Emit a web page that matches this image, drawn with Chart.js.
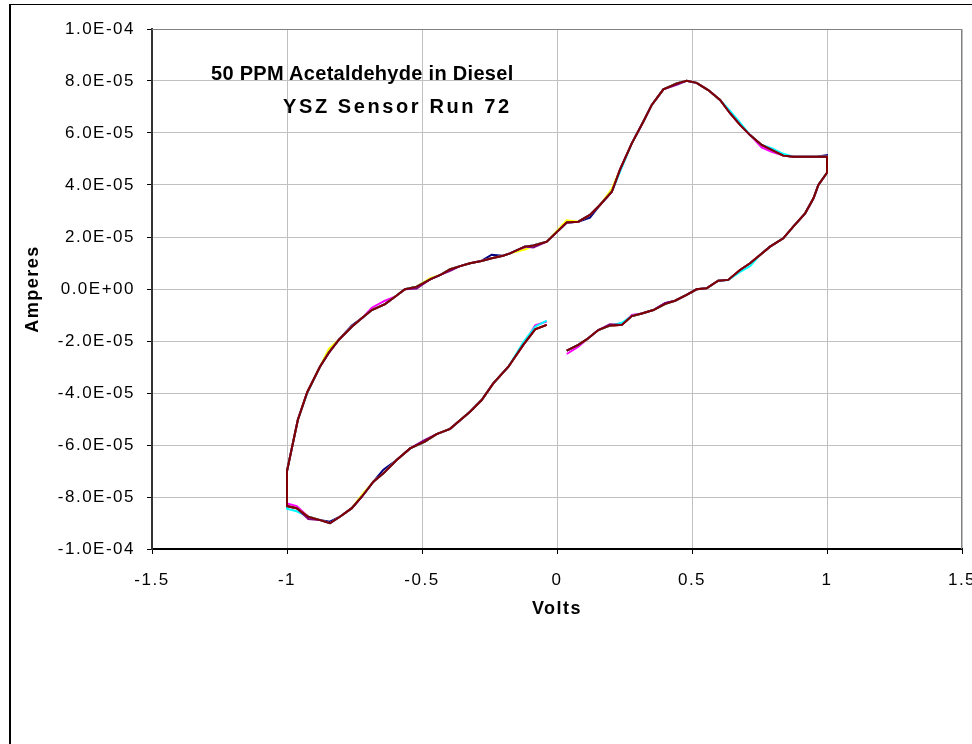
<!DOCTYPE html>
<html>
<head>
<meta charset="utf-8">
<script src="https://cdn.jsdelivr.net/npm/chart.js@4"></script>
<style>
  html, body { margin: 0; padding: 0; background: #fff; overflow: hidden; }
  #frame { position: absolute; left: 9px; top: 4px; width: 1100px; height: 900px;
           border-left: 2px solid #000; border-top: 1px solid #000; }
  #chart { position: absolute; left: 0; top: 0; }
  .title { position: absolute; font: bold 20px "Liberation Sans", Arial, sans-serif;
           line-height: 20px; white-space: nowrap; color: #000; }
  #t1 { left: 211px; top: 63px; letter-spacing: 0.3px; }
  #t2 { left: 283px; top: 96px; letter-spacing: 2.6px; }
</style>
</head>
<body>
<div id="frame"></div>
<canvas id="chart" width="972" height="744"></canvas>
<div class="title" id="t1">50 PPM Acetaldehyde in Diesel</div>
<div class="title" id="t2">YSZ Sensor Run 72</div>
<script>
// sweep voltage (V), same for every cycle
const volts = [
  -0.038, -0.081, -0.125, -0.180, -0.236, -0.279, -0.322, -0.359, -0.396, -0.446,
  -0.489, -0.544, -0.594, -0.643, -0.680, -0.723, -0.760, -0.804, -0.841, -0.880,
  -0.921, -0.964, -1.000, -1.000, -0.960, -0.925, -0.878, -0.845, -0.807, -0.760,
  -0.720, -0.686, -0.637, -0.600, -0.563, -0.520, -0.470, -0.430, -0.396, -0.359,
  -0.322, -0.280, -0.242, -0.200, -0.174, -0.119, -0.088, -0.038, 0.036, 0.079,
  0.122, 0.159, 0.203, 0.233, 0.277, 0.320, 0.351, 0.394, 0.443, 0.480,
  0.517, 0.560, 0.604, 0.641, 0.678, 0.715, 0.758, 0.795, 0.838, 0.875,
  0.920, 0.960, 1.000, 1.000, 0.968, 0.950, 0.919, 0.875, 0.838, 0.789,
  0.752, 0.715, 0.678, 0.634, 0.597, 0.554, 0.517, 0.480, 0.437, 0.400,
  0.357, 0.314, 0.277, 0.240, 0.196, 0.153, 0.110, 0.079, 0.036
];

// current in units of 1E-05 A, one array per cycle
const cycle1 = [
  -1.38, -1.55, -2.15, -2.99, -3.63, -4.27, -4.72, -5.05, -5.38, -5.58,
  -5.87, -6.13, -6.58, -6.95, -7.41, -7.99, -8.43, -8.76, -8.95, -8.88,
  -8.76, -8.43, -8.35, -7.00, -5.04, -3.97, -2.99, -2.45, -1.94, -1.40,
  -1.10, -0.81, -0.58, -0.30, -0.01, 0.09, 0.37, 0.55, 0.76, 0.88,
  0.99, 1.08, 1.32, 1.28, 1.37, 1.63, 1.67, 1.82, 2.56, 2.59,
  2.74, 3.23, 3.74, 4.58, 5.60, 6.44, 7.08, 7.68, 7.91, 8.01,
  7.93, 7.65, 7.27, 6.76, 6.31, 5.92, 5.54, 5.35, 5.13, 5.09,
  5.09, 5.09, 5.15, 4.47, 4.00, 3.49, 2.91, 2.40, 1.95, 1.63,
  1.31, 0.99, 0.73, 0.35, 0.32, 0.03, -0.01, -0.23, -0.45, -0.55,
  -0.81, -0.94, -1.04, -1.38, -1.41, -1.58, -1.94, -2.15, -2.37
];
const cycle2 = [
  -1.25, -1.40, -2.15, -2.99, -3.63, -4.27, -4.72, -5.05, -5.38, -5.58,
  -5.87, -6.13, -6.58, -7.09, -7.41, -7.99, -8.43, -8.76, -9.01, -8.88,
  -8.76, -8.35, -8.25, -7.00, -5.04, -3.97, -2.99, -2.45, -1.94, -1.45,
  -1.10, -0.72, -0.45, -0.30, -0.01, 0.09, 0.37, 0.55, 0.76, 0.88,
  0.99, 1.08, 1.18, 1.28, 1.37, 1.58, 1.67, 1.82, 2.56, 2.59,
  2.85, 3.23, 3.74, 4.58, 5.60, 6.44, 7.08, 7.68, 7.91, 8.01,
  7.93, 7.65, 7.27, 6.76, 6.31, 5.92, 5.45, 5.28, 5.13, 5.09,
  5.09, 5.09, 5.09, 4.47, 4.00, 3.49, 2.91, 2.40, 1.95, 1.63,
  1.31, 0.99, 0.73, 0.35, 0.32, 0.03, -0.01, -0.23, -0.45, -0.58,
  -0.81, -0.94, -1.00, -1.38, -1.41, -1.58, -1.94, -2.22, -2.50
];
const cycle3 = [
  -1.38, -1.55, -2.15, -2.99, -3.63, -4.27, -4.72, -5.05, -5.38, -5.58,
  -5.87, -6.13, -6.58, -7.09, -7.41, -7.92, -8.43, -8.76, -9.01, -8.88,
  -8.76, -8.43, -8.35, -7.00, -5.04, -3.97, -2.99, -2.30, -1.94, -1.45,
  -1.10, -0.81, -0.58, -0.30, -0.01, 0.09, 0.42, 0.55, 0.76, 0.88,
  0.99, 1.08, 1.18, 1.28, 1.37, 1.52, 1.67, 1.82, 2.64, 2.59,
  2.85, 3.23, 3.85, 4.58, 5.60, 6.44, 7.08, 7.68, 7.91, 8.01,
  7.93, 7.65, 7.27, 6.76, 6.31, 5.92, 5.54, 5.35, 5.13, 5.09,
  5.09, 5.09, 5.09, 4.47, 4.00, 3.49, 2.91, 2.40, 1.95, 1.63,
  1.31, 0.99, 0.73, 0.35, 0.32, 0.03, -0.01, -0.23, -0.45, -0.58,
  -0.81, -0.94, -1.04, -1.38, -1.41, -1.58, -1.94, -2.15, -2.37
];
const cycle4 = [
  -1.22, -1.45, -2.05, -2.99, -3.63, -4.27, -4.72, -5.05, -5.38, -5.58,
  -5.87, -6.13, -6.58, -7.09, -7.41, -7.99, -8.43, -8.76, -9.01, -8.88,
  -8.76, -8.55, -8.45, -7.00, -5.04, -4.00, -2.99, -2.45, -1.94, -1.45,
  -1.10, -0.81, -0.58, -0.30, -0.01, 0.09, 0.37, 0.55, 0.76, 0.88,
  0.99, 1.08, 1.18, 1.28, 1.37, 1.63, 1.67, 1.82, 2.56, 2.59,
  2.85, 3.23, 3.74, 4.50, 5.60, 6.44, 7.08, 7.68, 7.91, 8.01,
  7.93, 7.65, 7.27, 6.85, 6.40, 5.92, 5.54, 5.42, 5.20, 5.09,
  5.09, 5.09, 5.09, 4.47, 4.00, 3.49, 2.91, 2.40, 1.95, 1.63,
  1.31, 0.88, 0.66, 0.35, 0.32, 0.03, -0.01, -0.23, -0.45, -0.58,
  -0.81, -0.94, -1.04, -1.30, -1.41, -1.58, -1.94, -2.15, -2.37
];
const cycle5 = [
  -1.38, -1.55, -2.15, -2.99, -3.63, -4.27, -4.72, -5.05, -5.38, -5.58,
  -5.80, -6.13, -6.58, -7.09, -7.41, -7.99, -8.43, -8.76, -9.01, -8.88,
  -8.85, -8.43, -8.35, -7.00, -5.04, -3.97, -2.99, -2.45, -1.94, -1.45,
  -1.10, -0.81, -0.58, -0.30, -0.01, 0.02, 0.37, 0.55, 0.70, 0.88,
  0.99, 1.08, 1.18, 1.28, 1.37, 1.63, 1.60, 1.82, 2.56, 2.59,
  2.85, 3.23, 3.74, 4.58, 5.60, 6.44, 7.08, 7.68, 7.85, 8.01,
  7.93, 7.65, 7.27, 6.76, 6.31, 5.92, 5.54, 5.35, 5.13, 5.09,
  5.09, 5.09, 5.09, 4.47, 4.00, 3.49, 2.91, 2.40, 1.95, 1.63,
  1.31, 0.99, 0.73, 0.35, 0.32, 0.03, -0.01, -0.23, -0.45, -0.55,
  -0.81, -0.94, -1.04, -1.38, -1.36, -1.58, -1.94, -2.15, -2.37
];
const cycle6 = [
  -1.38, -1.55, -2.15, -2.99, -3.63, -4.27, -4.72, -5.05, -5.38, -5.58,
  -5.87, -6.13, -6.58, -7.09, -7.41, -7.99, -8.43, -8.76, -9.01, -8.88,
  -8.76, -8.43, -8.35, -7.00, -5.04, -3.97, -2.99, -2.45, -1.94, -1.45,
  -1.10, -0.81, -0.58, -0.30, -0.01, 0.09, 0.37, 0.55, 0.76, 0.88,
  0.99, 1.08, 1.18, 1.28, 1.37, 1.63, 1.67, 1.82, 2.56, 2.59,
  2.85, 3.23, 3.74, 4.58, 5.60, 6.44, 7.08, 7.68, 7.91, 8.01,
  7.93, 7.65, 7.27, 6.76, 6.31, 5.92, 5.54, 5.35, 5.13, 5.09,
  5.09, 5.09, 5.09, 4.47, 4.00, 3.49, 2.91, 2.40, 1.95, 1.63,
  1.31, 0.99, 0.73, 0.35, 0.32, 0.03, -0.01, -0.23, -0.45, -0.58,
  -0.81, -0.94, -1.04, -1.38, -1.41, -1.58, -1.94, -2.15, -2.37
];

const cycles = [cycle1, cycle2, cycle3, cycle4, cycle5, cycle6];
const colors = ['#000080', '#ff00ff', '#ffff00', '#00ffff', '#800080', '#800000'];
const fontFamily = '"Liberation Sans", Arial, sans-serif';

function sciLabel(v) {
    if (Math.abs(v) < 1e-12) {
        return '0.0E+00';
    }
    const parts = v.toExponential(1).split('e');
    const exp = parseInt(parts[1]);
    return parts[0] + 'E' + (exp < 0 ? '-' : '+') + String(Math.abs(exp)).padStart(2, '0');
}

// the axis text in the original is drawn a little wide
const textSpacing = {
    id: 'textSpacing',
    beforeDraw(chart) {
        chart.ctx.letterSpacing = '1.5px';
    },
    beforeDatasetsDraw(chart) {
        chart.ctx.letterSpacing = '0px';
    }
};

const plotFrame = {
    id: 'plotFrame',
    afterDatasetsDraw(chart) {
        const {ctx, chartArea} = chart;
        ctx.save();
        ctx.strokeStyle = '#808080';
        ctx.lineWidth = 1;
        ctx.beginPath();
        ctx.moveTo(chartArea.left, chartArea.top + 0.5);
        ctx.lineTo(chartArea.right - 0.5, chartArea.top + 0.5);
        ctx.lineTo(chartArea.right - 0.5, chartArea.bottom);
        ctx.stroke();
        ctx.restore();
    }
};

const datasets = cycles.map((amps, i) => ({
    label: 'Cycle ' + (i + 1),
    data: amps.map((a, j) => ({x: volts[j], y: a * 1e-5})),
    borderColor: colors[i],
    borderWidth: 2,
    showLine: true,
    pointRadius: 0,
    fill: false,
    tension: 0,
    order: cycles.length - i
}));

new Chart(document.getElementById('chart'), {
    type: 'scatter',
    data: {datasets},
    plugins: [textSpacing, plotFrame],
    options: {
        responsive: false,
        animation: false,
        devicePixelRatio: 1,
        layout: {
            autoPadding: false,
            padding: {left: 0, top: 29, right: 10, bottom: 124}
        },
        plugins: {
            legend: {display: false},
            tooltip: {enabled: false}
        },
        scales: {
            x: {
                type: 'linear',
                min: -1.5,
                max: 1.5,
                ticks: {
                    stepSize: 0.5,
                    color: '#000',
                    padding: 16,
                    maxRotation: 0,
                    autoSkip: false,
                    font: {family: fontFamily, size: 17},
                    callback: v => String(Math.round(v * 10) / 10)
                },
                grid: {color: '#c0c0c0', lineWidth: 1, tickColor: '#000', tickLength: 5},
                border: {color: '#000', width: 2},
                title: {
                    display: true,
                    text: 'Volts',
                    color: '#000',
                    padding: {top: 0, bottom: 0},
                    font: {family: fontFamily, size: 18, weight: 'bold'}
                },
                afterFit(scale) {
                    scale.height = 71;
                    scale.paddingLeft = 0;
                    scale.paddingRight = 0;
                }
            },
            y: {
                type: 'linear',
                min: -1e-4,
                max: 1e-4,
                ticks: {
                    stepSize: 2e-5,
                    color: '#000',
                    padding: 12,
                    autoSkip: false,
                    font: {family: fontFamily, size: 17},
                    callback: v => sciLabel(v)
                },
                grid: {color: '#c0c0c0', lineWidth: 1, tickColor: '#000', tickLength: 5},
                border: {color: '#333', width: 2},
                title: {
                    display: true,
                    text: 'Amperes',
                    color: '#000',
                    padding: {top: 22, bottom: 0},
                    font: {family: fontFamily, size: 18, weight: 'bold'}
                },
                afterFit(scale) {
                    scale.width = 152;
                    scale.paddingTop = 0;
                    scale.paddingBottom = 0;
                }
            }
        }
    }
});
</script>
</body>
</html>
